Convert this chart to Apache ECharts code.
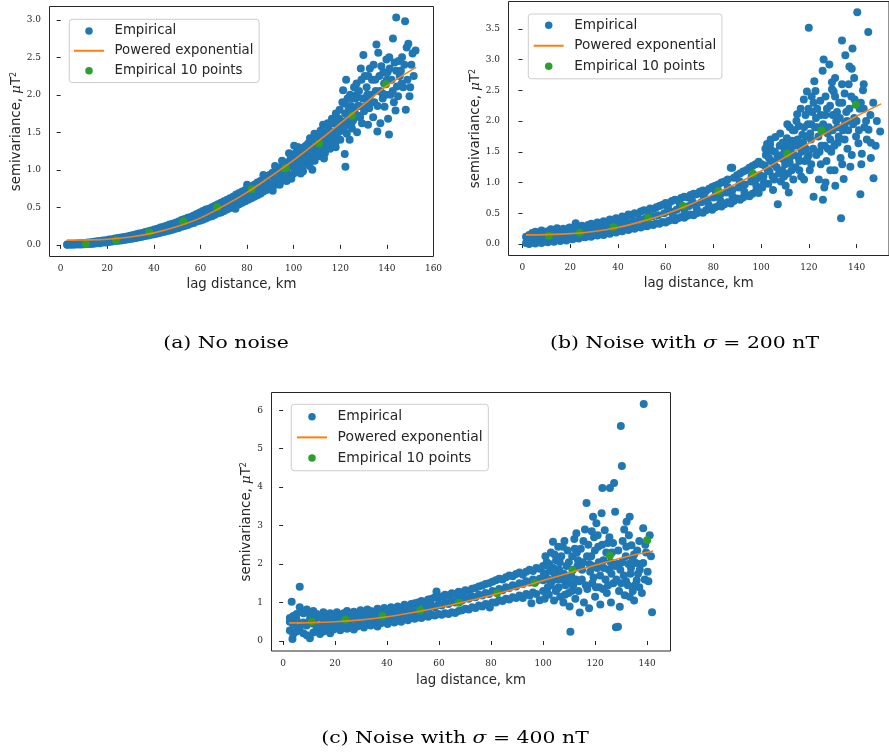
<!DOCTYPE html>
<html>
<head>
<meta charset="utf-8">
<script src="https://cdn.jsdelivr.net/npm/echarts@6/dist/echarts.min.js"></script>
<style>
html,body{margin:0;padding:0;background:#fff;}
#chart{width:889px;height:754px;}
</style>
</head>
<body>
<div id="chart"></div>
<script>
// ---------- panel (a): no noise ----------
const empiricalA = [
[2.8,0.0],[2.8,0.005],[4.0,0.002],[4.0,0.01],[5.3,0.0],[5.3,0.012],[6.5,0.004],[6.5,0.015],[7.8,0.006],[7.8,0.02],
[9.0,0.004],[9.0,0.022],[10.3,0.008],[10.3,0.025],[11.6,0.01],[11.6,0.03],[12.9,0.012],[12.9,0.035],[14.2,0.015],[14.2,0.04],
[15.5,0.02],[15.5,0.048],[16.8,0.022],[16.8,0.05],[18.1,0.03],[18.1,0.058],[19.4,0.032],[19.4,0.062],[20.7,0.038],[20.7,0.07],
[22.0,0.045],[22.0,0.075],[23.3,0.05],[23.3,0.085],[24.6,0.055],[24.6,0.09],[25.9,0.058],[25.9,0.098],[27.2,0.066],[27.2,0.105],
[28.5,0.07],[28.5,0.112],[29.8,0.078],[29.8,0.12],[31.1,0.085],[31.1,0.13],[32.4,0.092],[32.4,0.14],[33.7,0.1],[33.7,0.15],
[35.0,0.108],[35.0,0.158],[36.3,0.118],[36.3,0.17],[37.6,0.125],[37.6,0.182],[38.9,0.135],[38.9,0.19],[40.2,0.14],[40.2,0.205],
[41.5,0.152],[41.5,0.215],[42.8,0.16],[42.8,0.23],[44.1,0.17],[44.1,0.24],[45.4,0.18],[45.4,0.255],[46.7,0.19],[46.7,0.27],
[48.0,0.2],[48.0,0.28],[49.3,0.215],[49.3,0.295],[50.6,0.225],[50.6,0.31],[51.9,0.24],[51.9,0.33],[53.2,0.25],[53.2,0.345],
[54.5,0.265],[54.5,0.36],[55.8,0.28],[55.8,0.37],[57.1,0.29],[57.1,0.39],[58.4,0.31],[58.4,0.41],[59.7,0.32],[59.7,0.43],
[61.0,0.335],[61.0,0.45],[62.3,0.35],[62.3,0.47],[63.6,0.37],[63.6,0.48],[64.9,0.38],[64.9,0.5],[66.2,0.4],[66.2,0.52],
[67.5,0.42],[67.5,0.54],[68.8,0.43],[68.8,0.56],[70.1,0.45],[70.1,0.58],[71.4,0.47],[71.4,0.6],[72.7,0.49],[72.7,0.62],
[74.0,0.5],[74.0,0.64],[75.3,0.52],[75.3,0.67],[76.6,0.54],[76.6,0.69],[77.9,0.56],[77.9,0.71],[79.2,0.58],[79.2,0.73],
[80.5,0.6],[80.5,0.76],[81.8,0.62],[81.8,0.78],[83.1,0.64],[83.1,0.8],[84.4,0.66],[84.4,0.83],[85.7,0.68],[85.7,0.85],
[87.0,0.71],[87.0,0.88],[88.3,0.73],[88.3,0.9],[89.6,0.75],[89.6,0.93],[90.9,0.78],[90.9,0.96],[92.2,0.8],[92.2,0.99],
[93.5,0.82],[93.5,1.01],[94.8,0.85],[94.8,1.04],[96.1,0.87],[96.1,1.08],[97.4,0.9],[97.4,1.1],[98.7,0.92],[98.7,1.14],
[100.0,0.95],[100.0,1.17],
[60.4,0.39],[63,0.43],[65.6,0.46],[68.2,0.5],[70.8,0.53],[73.4,0.57],[76,0.61],[78.6,0.65],[81.2,0.69],[83.8,0.73],
[86.4,0.78],[89,0.82],[91.6,0.88],[94.2,0.93],[96.8,0.98],[99.4,1.04],
[92,1.05],[95,1.12],[98,1.22],[100.2,1.32],[101.5,1.3],[91,0.72],[94,0.8],[97,0.85],[99,0.88],[87,0.93],[80,0.8],[75,0.48],
[100.5,1.0],[101,1.12],[101.8,1.2],[102.5,1.05],[103,1.25],[103.5,1.15],[104,0.98],[104.5,1.3],[105,1.1],[105.6,1.22],
[106.2,1.35],[106.8,1.05],[107.3,1.18],[107.8,1.28],[108.4,1.4],[109,1.12],[109.5,1.25],[110,1.32],[110.6,1.45],[111.2,1.18],
[111.7,1.3],[112.3,1.38],[112.8,1.5],[113.4,1.22],[114,1.35],[114.5,1.44],[115,1.55],[115.6,1.28],[116.1,1.4],[116.7,1.5],
[117.2,1.62],[117.8,1.35],[118.3,1.46],[118.9,1.57],[119.4,1.68],[120,1.4],[120.5,1.52],[121,1.64],[121.2,2.06],[121.9,1.21],
[122.2,1.04],[122.5,2.2],[122.1,1.75],[122.8,1.48],[123.4,1.6],[123.9,1.7],[124.5,1.85],[125,1.55],[125.5,1.66],[126.1,1.78],
[126.6,1.95],[127.2,1.5],[127.7,1.72],[128.2,1.85],[128.8,2.35],[129.3,1.62],[129.9,2.53],[130.2,1.78],[130.8,1.95],[131.3,2.1],
[131.9,1.6],[132.4,1.82],[133,2.0],[133.6,2.2],[134.1,1.7],[134.6,1.9],[135.2,2.05],[135.5,2.67],[135.9,1.51],[136.3,2.56],
[136.8,2.25],[137.2,1.62],[137.6,2.38],[138.2,1.95],[138.8,2.15],[139,1.84],[139.8,2.47],[140.3,2.3],[140.5,1.68],[140.9,1.47],
[141.5,2.0],[142,2.2],[142.6,2.75],[143.3,2.43],[143.7,1.79],[144,2.32],[144,3.03],[144.3,2.11],[144.8,1.98],[145.5,2.25],
[146,2.32],[147,2.1],[147.8,2.98],[148.1,1.8],[148.5,2.63],[149.2,2.68],[149.7,1.98],[150.5,2.4],[151.5,2.25],[152.3,2.59],
[146.5,2.5],[141,2.5],[138,2.02],[132,2.25],[127,2.0],[124,1.4],[118,1.3],[113,1.15],[108,1.0],[103,0.95],
[100.8,1.22],[101.3,1.08],[102,1.3],[102.8,1.15],[103.6,1.05],[104.2,1.2],[105.2,1.32],[105.9,1.15],[106.5,1.25],[107,1.42],
[107.6,1.12],[108.1,1.3],[108.9,1.48],[109.7,1.2],[110.3,1.4],[110.9,1.25],[111.5,1.52],[112,1.3],[112.6,1.6],[113.2,1.42],
[113.8,1.28],[114.6,1.62],[115.3,1.45],[115.9,1.35],[116.4,1.68],[117,1.48],[117.5,1.4],[118.1,1.75],[118.6,1.6],[119.1,1.5],
[119.7,1.8],[120.3,1.65],[120.9,1.9],[121.5,1.55],[122,1.88],[122.6,1.65],[123.1,1.95],[123.6,1.8],[124.2,2.0],[124.8,1.62],
[125.3,1.95],[125.9,2.1],[126.3,1.7],[127,2.15],[127.5,1.85],[128,2.05],[128.5,1.7],[129.1,2.2],[129.6,1.95],[130.5,2.25],
[131,1.85],[131.6,2.0],[132.7,2.35],[133.3,1.9],[134.3,2.4],[135,2.2],[136,1.85],[137,2.05],[138.5,2.3],[139.5,2.0],
[140,2.2],[141.2,2.35],[142.5,2.05],[143,1.9],[145,2.45],[146.3,2.15],[147.5,2.4],[148.8,2.2],[150,2.1],[151,2.55]
];
const fitA = [[2.6,0.063],[10,0.065],[20,0.075],[30,0.105],[40,0.16],[50,0.245],[60,0.36],[70,0.52],[80,0.70],[90,0.91],
[100,1.13],[110,1.37],[120,1.62],[130,1.87],[140,2.12],[152.6,2.37]];
const binsA = [[10.9,0.013],[23.7,0.063],[38,0.165],[52.6,0.31],[67.2,0.50],[82,0.744],[96.5,1.02],[110.9,1.35],[125.1,1.72],[139.6,2.14]];
const xTicksA = [0,20,40,60,80,100,120,140,160];
const yTicksA = [0,0.5,1,1.5,2,2.5,3];

// ---------- panel (b): sigma = 200 nT ----------
const empiricalB = [
[1.5,0.02],[1.5,0.12],[2.8,0.0],[2.8,0.15],[4.1,0.03],[4.1,0.18],[5.4,0.01],[5.4,0.2],[6.7,0.04],[6.7,0.16],
[8.0,0.02],[8.0,0.22],[9.3,0.05],[9.3,0.19],[10.6,0.03],[10.6,0.21],[11.9,0.06],[11.9,0.24],[13.2,0.04],[13.2,0.2],
[14.5,0.07],[14.5,0.26],[15.8,0.05],[15.8,0.22],[17.1,0.08],[17.1,0.25],[18.4,0.06],[18.4,0.23],[19.7,0.09],[19.7,0.27],
[21.0,0.08],[21.0,0.26],[22.3,0.1],[22.3,0.34],[23.6,0.09],[23.6,0.28],[24.9,0.12],[24.9,0.3],[26.2,0.11],[26.2,0.27],
[27.5,0.13],[27.5,0.31],[28.8,0.12],[28.8,0.33],[30.1,0.15],[30.1,0.32],[31.4,0.14],[31.4,0.35],[32.7,0.16],[32.7,0.34],
[34.0,0.15],[34.0,0.37],[35.3,0.18],[35.3,0.36],[36.6,0.17],[36.6,0.4],[37.9,0.2],[37.9,0.38],[39.2,0.19],[39.2,0.42],
[40.5,0.22],[40.5,0.41],[41.8,0.21],[41.8,0.45],[43.1,0.24],[43.1,0.44],[44.4,0.23],[44.4,0.48],[45.7,0.26],[45.7,0.47],
[47.0,0.25],[47.0,0.5],[48.3,0.28],[48.3,0.49],[49.6,0.27],[49.6,0.53],[50.9,0.3],[50.9,0.55],[52.2,0.29],[52.2,0.54],
[53.5,0.32],[53.5,0.58],[54.8,0.31],[54.8,0.57],[56.1,0.34],[56.1,0.6],[57.4,0.33],[57.4,0.62],[58.7,0.36],[58.7,0.64],
[60.0,0.35],[60.0,0.67],[61.3,0.38],[61.3,0.66],[62.6,0.4],[62.6,0.7],[63.9,0.39],[63.9,0.72],[65.2,0.42],[65.2,0.71],
[66.5,0.44],[66.5,0.75],[67.8,0.43],[67.8,0.77],[69.1,0.46],[69.1,0.76],[70.4,0.48],[70.4,0.8],[71.7,0.47],[71.7,0.82],
[73.0,0.5],[73.0,0.81],[74.3,0.52],[74.3,0.85],[75.6,0.51],[75.6,0.87],[76.9,0.55],[76.9,0.86],[78.2,0.57],[78.2,0.9],
[79.5,0.56],[79.5,0.93],[80.8,0.6],[80.8,0.95],[82.1,0.62],[82.1,0.97],[83.4,0.61],[83.4,1.0],[84.7,0.65],[84.7,1.02],
[86.0,0.68],[86.0,1.05],[87.3,0.66],[87.3,1.24],[88.6,0.7],[88.6,1.08],[89.9,0.74],[89.9,1.12],[91.2,0.72],[91.2,1.15],
[92.5,0.76],[92.5,1.18],[93.8,0.8],[93.8,1.2],[95.1,0.78],[95.1,1.24],[96.4,0.82],[96.4,1.27],[97.7,0.85],[97.7,1.3],
[99.0,0.83],[99.0,1.34],
[2.2,0.07],[4.8,0.1],[7.4,0.09],[10,0.12],[12.6,0.13],[15.2,0.14],[17.8,0.16],[20.4,0.17],[23,0.19],[25.6,0.2],
[28.2,0.22],[30.8,0.24],[33.4,0.26],[36,0.28],[38.6,0.3],[41.2,0.33],[43.8,0.35],[46.4,0.37],[49,0.4],[51.6,0.42],
[54.2,0.45],[56.8,0.47],[59.4,0.5],[62,0.53],[64.6,0.56],[67.2,0.59],[69.8,0.62],[72.4,0.65],[75,0.68],[77.6,0.72],
[80.2,0.76],[82.8,0.8],[85.4,0.84],[88,0.88],[90.6,0.92],[93.2,0.97],[95.8,1.02],[98.4,1.07],[99.5,1.12],
[61,0.58],[66,0.65],[71,0.72],[76,0.78],[81,0.85],[86,0.93],[91,1.02],[96,1.1],
[63,0.48],[68,0.52],[73,0.58],[78,0.64],[83,0.7],[88,0.78],[93,0.85],[98,0.95],
[100.5,0.92],[101,1.1],[101.5,1.28],[102,1.45],[102.5,1.63],[103,0.98],[103.5,1.18],[104,1.35],[104.5,1.52],[105,0.88],
[105.5,1.05],[106,1.74],[106.5,1.25],[107,0.65],[107.3,1.42],[107.8,1.6],[108.3,1.02],[108.8,1.2],[109.3,1.38],[109.8,1.55],
[110.3,0.95],[110.8,1.72],[111.3,1.15],[111.6,0.84],[112,1.32],[112.5,1.5],[113,1.68],[113.5,1.05],[114,1.85],[114.5,1.25],
[115.1,2.11],[115.5,1.42],[115.8,1.92],[116.2,1.6],[116.8,1.1],[117.3,1.78],[117.9,2.35],[118.3,1.35],[118.8,1.55],[119.2,2.48],
[119.6,1.95],[120,3.52],[120.4,1.2],[120.9,1.7],[121.4,2.15],[122,0.77],[122.3,2.65],[122.8,2.49],[123.2,1.45],[123.7,1.9],
[124.2,1.05],[124.8,2.33],[125.3,1.6],[125.8,2.82],[125.9,0.72],[126.2,3.0],[126.5,0.92],[126.9,2.1],[127.4,1.35],[127.9,1.8],
[128.6,2.92],[128.9,2.25],[129.4,1.5],[129.7,2.63],[129.7,2.52],[130.4,2.48],[130.8,1.2],[131.1,0.95],[131.5,2.0],[132.1,1.65],
[132.7,2.3],[133.3,1.4],[133.5,0.42],[133.9,2.6],[133.9,3.31],[134.3,1.85],[134.6,1.06],[135.3,3.07],[135.7,2.15],[136.2,1.55],
[136.7,2.6],[137,2.89],[137.4,1.26],[138,2.85],[138.3,3.18],[138.6,1.95],[139.2,2.35],[139.8,1.75],[140.3,3.77],[140.8,1.64],
[141.3,2.2],[141.6,0.81],[142.2,1.47],[142.7,2.5],[143.3,1.9],[144.3,1.7],[144.9,3.45],[145,1.86],[145.8,2.1],[147.1,1.07],
[148,1.6],[149.9,1.83],[136,2.0],[131,2.4],[127,1.0],[121,1.3],[118,1.9],[112,1.9],[104,1.7],
[112,1.4],[114,1.6],[116,1.35],[117,1.5],[119,1.75],[121,1.95],[123,2.05],[124,1.75],[126,1.95],[128,1.55],
[130,1.85],[132,1.9],[135,1.7],[137,2.2],[139,2.05],[141,1.85],[143,2.2],[120,1.45],[125,1.3],[129,1.2],
[134,1.3],[138,1.45],[142,1.3],[146,1.4],[122,2.3],[127,2.4],[131,2.7],[135,2.45],[139,2.7],[143,2.6],[147,2.3],
[87.9,1.24],
[100.2,1.3],[101.2,1.0],[101.8,1.55],[102.8,1.2],[103.3,1.4],[103.8,1.62],[104.8,1.1],[105.3,1.3],[105.8,1.5],[106.8,1.4],
[107.5,1.15],[108,1.8],[108.6,1.45],[109,1.65],[109.6,1.1],[110.1,1.3],[110.6,1.5],[111,1.95],[111.9,1.62],[112.8,1.2],
[113.3,1.85],[113.8,1.45],[114.8,2.0],[115.3,1.7],[116,1.2],[116.6,2.2],[117.6,1.65],[118,1.05],[118.6,2.1],[119.4,1.4],
[119.9,2.2],[120.6,1.8],[121.2,2.4],[121.8,1.55],[122.6,1.9],[123.5,2.2],[124.5,1.5],[125,2.1],[125.6,1.85],[126.7,1.6],
[127.6,2.2],[128.3,1.9],[129,1.7],[130,2.1],[130.7,1.6],[131.8,2.15],[132.5,1.75],[133,2.05],[134,2.3],[135,1.95],
[136.5,1.85],[137.8,2.4],[140,2.0],[141.8,2.3],[144,2.0],[146,1.65],[148.5,2.0]
];
const fitB = [[1.4,0.151],[10,0.155],[20,0.17],[30,0.205],[40,0.27],[50,0.37],[60,0.49],[70,0.64],[80,0.81],[90,0.99],
[100,1.19],[110,1.41],[120,1.64],[130,1.87],[140,2.08],[150.3,2.28]];
const binsB = [[11.1,0.135],[23.9,0.184],[38.1,0.276],[52.7,0.428],[67.3,0.618],[82.1,0.862],[96.6,1.143],[110.9,1.468],[125.3,1.847],[139.7,2.265]];
const xTicksB = [0,20,40,60,80,100,120,140];
const yTicksB = [0,0.5,1,1.5,2,2.5,3,3.5];

// ---------- panel (c): sigma = 400 nT ----------
const empiricalC = [
[2.6,0.27],[2.6,0.5],[2.6,0.6],[3.3,1.02],[3.6,0.05],[3.9,0.18],[3.9,0.42],[3.9,0.65],[5.2,0.25],[5.2,0.55],[5.2,0.7],
[6.4,1.41],[6.4,0.875],[6.4,0.35],[7.8,0.2],[7.8,0.48],[7.8,0.72],[9.1,0.15],[9.1,0.4],[9.1,0.82],[10.3,0.07],[10.3,0.55],[10.3,0.68],
[11.6,0.22],[11.6,0.45],[11.6,0.78],[12.9,0.3],[12.9,0.6],[12.9,0.7],[14.2,0.18],[14.2,0.38],[14.2,0.65],[15.5,0.25],[15.5,0.52],[15.5,0.75],
[16.8,0.32],[16.8,0.45],[16.8,0.62],[18.1,0.2],[18.1,0.58],[18.1,0.72],[19.4,0.3],[19.4,0.42],[19.4,0.68],[20.7,0.35],[20.7,0.55],[20.7,0.75],
[22.0,0.28],[22.0,0.48],[22.0,0.65],[23.3,0.38],[23.3,0.6],[23.3,0.72],[24.6,0.32],[24.6,0.5],[24.6,0.78],[25.9,0.4],[25.9,0.56],[25.9,0.7],
[27.2,0.3],[27.2,0.62],[27.2,0.76],[28.5,0.38],[28.5,0.5],[28.5,0.72],[29.8,0.42],[29.8,0.58],[29.8,0.8],[31.1,0.35],[31.1,0.62],[31.1,0.74],
[32.4,0.45],[32.4,0.55],[32.4,0.82],[33.7,0.4],[33.7,0.65],[33.7,0.78],[35.0,0.48],[35.0,0.58],[35.0,0.76],[36.3,0.38],[36.3,0.66],[36.3,0.84],
[37.6,0.46],[37.6,0.6],[37.6,0.8],[38.9,0.5],[38.9,0.7],[38.9,0.86],[40.2,0.44],[40.2,0.62],[40.2,0.8],[41.5,0.52],[41.5,0.72],[41.5,0.88],
[42.8,0.48],[42.8,0.66],[42.8,0.82],[44.1,0.55],[44.1,0.74],[44.1,0.9],[45.4,0.5],[45.4,0.7],[45.4,0.86],[46.7,0.58],[46.7,0.78],[46.7,0.94],
[48.0,0.54],[48.0,0.72],[48.0,0.9],[49.3,0.6],[49.3,0.8],[49.3,0.96],[50.6,0.58],[50.6,0.76],[50.6,0.98],[51.9,0.62],[51.9,0.84],[51.9,1.0],
[53.2,0.6],[53.2,0.8],[53.2,1.04],[54.5,0.66],[54.5,0.88],[54.5,1.02],[55.8,0.63],[55.8,0.84],[55.8,1.08],[57.1,0.68],[57.1,0.92],[57.1,1.1],
[58.4,0.66],[58.4,0.88],[58.4,1.14],[59.0,1.29],[59.7,0.7],[59.7,0.95],[59.7,1.12],[61.0,0.68],[61.0,0.92],[61.0,1.16],
[62.3,0.72],[62.3,1.0],[62.3,1.2],[63.6,0.7],[63.6,0.96],[63.6,1.18],[64.9,0.75],[64.9,1.04],[64.9,1.24],[66.2,0.73],[66.2,1.0],[66.2,1.22],
[67.5,0.78],[67.5,1.08],[67.5,1.28],[68.8,0.8],[68.8,1.05],[68.8,1.26],[70.1,0.84],[70.1,1.12],[70.1,1.32],[71.4,0.82],[71.4,1.1],[71.4,1.3],
[72.7,0.88],[72.7,1.16],[72.7,1.36],[74.0,0.86],[74.0,1.14],[74.0,1.38],[75.3,0.92],[75.3,1.2],[75.3,1.42],[76.6,0.9],[76.6,1.18],[76.6,1.44],
[77.9,0.96],[77.9,1.25],[77.9,1.48],[79.2,0.95],[79.2,1.22],[79.2,1.5],[79.5,0.87],[80.5,1.0],[80.5,1.3],[80.5,1.54],
[81.8,1.0],[81.8,1.28],[81.8,1.58],[83.1,1.06],[83.1,1.35],[83.1,1.62],[84.4,1.04],[84.4,1.32],[84.4,1.6],[85.7,1.1],[85.7,1.4],[85.7,1.66],
[87.0,1.08],[87.0,1.38],[87.0,1.7],[88.3,1.14],[88.3,1.45],[88.3,1.68],[89.6,1.12],[89.6,1.42],[89.6,1.74],[90.9,1.18],[90.9,1.5],[90.9,1.78],
[92.2,1.12],[92.2,1.48],[92.2,1.72],[93.5,1.22],[93.5,1.55],[93.5,1.8],[94.8,1.18],[94.8,1.52],[94.8,1.85],[95.5,0.98],
[96.1,1.26],[96.1,1.6],[96.1,1.82],[97.4,1.22],[97.4,1.56],[97.4,1.9],[98.7,1.06],[98.7,1.62],[98.7,1.88],[100.0,1.3],[100.0,1.58],[100.0,1.95],
[100.6,1.1],[101,1.75],[101.4,2.05],[101.8,1.4],[102.2,1.2],[102.6,1.9],[103,2.3],[103.4,1.55],[103.8,2.58],[104.2,1.05],
[104.6,1.7],[105,2.1],[105.4,1.35],[105.8,2.45],[106.2,1.85],[106.6,1.15],[107,2.2],[107.4,1.6],[107.8,1.0],[108.2,2.6],
[108.6,1.45],[109,1.95],[109.4,2.35],[109.8,1.25],[110.2,0.9],[110.5,0.24],[110.8,1.7],[111.2,2.2],[111.6,1.45],[112,2.65],
[112.4,1.1],[112.8,2.8],[113.2,1.95],[113.6,1.3],[114.1,0.74],[114.5,2.4],[114.9,1.6],[115.3,2.05],[115.7,1.0],[116.1,2.9],
[116.7,3.59],[117,1.35],[117.4,2.5],[117.7,0.85],[118.1,1.8],[118.5,2.2],[118.9,1.5],[119.2,3.23],[119.6,2.7],[120,1.15],
[120.5,3.06],[120.8,1.9],[121.2,2.45],[121.6,1.4],[122,0.95],[122.5,3.32],[122.8,3.98],[123.2,2.1],[123.7,2.88],[124,1.6],
[124.5,1.25],[124.9,2.55],[125.3,1.85],[125.7,3.98],[126.1,1.0],[126.5,2.3],[127,1.5],[127.3,4.11],[127.7,3.36],[128,0.36],
[128.4,2.0],[128.8,0.37],[129.2,1.3],[129.5,0.89],[129.9,5.59],[130.3,4.55],[130.6,2.6],[131,1.7],[131.4,1.19],[131.8,2.2],
[132.1,3.1],[132.6,1.45],[133,2.75],[133.3,3.23],[133.3,1.15],[133.8,1.9],[134,2.49],[134.5,1.3],[135,2.25],[135.7,2.03],
[136,1.58],[136.5,1.75],[137,1.4],[137.6,2.0],[138.5,2.93],[138.5,2.03],[138.7,6.16],[139.1,1.6],[139.6,2.3],[140.2,1.8],
[141,2.75],[141.9,0.745],[108,1.75],[111,1.3],[113,2.3],[115,1.85],[119,1.95],[121,2.75],[123,1.35],[126,2.05],
[130,1.5],[132,2.45],[135,1.05],[137,2.6],[106,1.4],[104,1.9],[102,1.6],
[100.3,1.75],[100.9,2.2],[101.6,1.25],[102.4,2.0],[102.9,1.45],[103.6,1.8],[104.4,2.25],[104.9,1.3],[105.6,1.6],[106.4,2.05],
[106.9,1.75],[107.6,2.45],[108.4,1.2],[109.2,1.6],[109.9,2.05],[110.6,1.5],[111.4,1.85],[112.2,2.4],[112.6,1.6],[113.4,2.1],
[113.9,1.55],[114.7,1.9],[115.5,2.6],[116.4,1.45],[116.9,2.2],[117.8,2.0],[118.7,2.85],[119.4,1.65],[119.9,2.35],[120.3,1.4],
[121.4,2.05],[121.9,1.7],[122.7,2.5],[123.4,1.9],[124.3,2.3],[125,1.45],[125.5,2.7],[126.3,1.75],[126.9,2.55],[127.6,1.95],
[128.2,1.6],[128.9,2.35],[129.7,1.85],[130.4,2.05],[131.2,2.9],[131.9,1.55],[132.8,2.0],[133.6,1.75],[134.4,2.15],[135.3,1.45],
[136.2,2.35],[137.2,1.85],[138,1.25],[139.3,2.5],[140.5,1.55],[141.5,2.2]
];
const fitC = [[2.3,0.47],[10,0.475],[20,0.5],[30,0.55],[40,0.63],[50,0.74],[60,0.87],[70,1.02],[80,1.19],[90,1.37],
[100,1.57],[110,1.77],[120,1.97],[130,2.16],[142.3,2.34]];
const binsC = [[11.0,0.50],[24.0,0.55],[38.2,0.65],[52.8,0.80],[67.6,0.995],[82.3,1.24],[96.8,1.51],[111.3,1.84],[125.7,2.22],[140,2.62]];
const xTicksC = [0,20,40,60,80,100,120,140];
const yTicksC = [0,1,2,3,4,5,6];

const legendNames = ['Empirical', 'Powered exponential', 'Empirical 10 points'];
const captions = ['(a) No noise', '(b) Noise with {i|σ} = 200 nT', '(c) Noise with {i|σ} = 400 nT'];

// ---------- styling ----------
const INK = '#262626';
const BLUE = '#1f77b4', ORANGE = '#ff7f0e', GREEN = '#2ca02c';
const SANS = '"DejaVu Sans", sans-serif';
const SERIF = '"DejaVu Serif", serif';
const DOT = 8;

const panels = [
  { box: { left: 49.5, top: 6.5, width: 384, height: 250 }, x: [-4.8, 160], y: [-0.155, 3.178],
    xt: xTicksA, yt: yTicksA, fmt: v => v.toFixed(1), xGap: 21.4, yGap: 25.5,
    emp: empiricalA, fit: fitA, bins: binsA,
    legend: { left: 69.3, top: 19.3, lh: 19.85, pad: [1.7, 5.7, 2, 3.7], fs: 13.3 } },
  { box: { left: 508.5, top: 1.5, width: 382, height: 254 }, x: [-5.85, 153.6], y: [-0.185, 3.945],
    xt: xTicksB, yt: yTicksB, fmt: v => v.toFixed(1), xGap: 22, yGap: 26.7,
    emp: empiricalB, fit: fitB, bins: binsB,
    legend: { left: 528.3, top: 14, lh: 20.5, pad: [1, 5.7, 2.3, 4.4], fs: 13.6 } },
  { box: { left: 271.5, top: 392.5, width: 399, height: 258.5 }, x: [-4.46, 149.0], y: [-0.26, 6.46],
    xt: xTicksC, yt: yTicksC, fmt: v => String(v), xGap: 22.7, yGap: 18.7,
    emp: empiricalC, fit: fitC, bins: binsC,
    legend: { left: 291.3, top: 404.3, lh: 20.65, pad: [2.1, 5.7, 2.4, 4.7], fs: 13.9 } }
];

const option = {
  animation: false,
  backgroundColor: '#ffffff',
  grid: [], xAxis: [], yAxis: [], series: [], legend: [], graphic: []
};

// the fitted-curve legend entry shows a bare line, no marker
const legendData = [
  legendNames[0],
  { name: legendNames[1], itemStyle: { opacity: 0, color: 'rgba(0,0,0,0)', borderWidth: 0 } },
  legendNames[2]
];

panels.forEach((p, i) => {
  option.grid.push(Object.assign({ show: true, borderColor: INK, borderWidth: 1, backgroundColor: 'transparent', containLabel: false }, p.box));
  option.xAxis.push({
    gridIndex: i, type: 'value', min: p.x[0], max: p.x[1],
    axisLine: { show: false }, splitLine: { show: false },
    axisTick: { show: true, customValues: p.xt, length: 4, lineStyle: { color: INK, width: 1 } },
    axisLabel: { customValues: p.xt, margin: 8, fontFamily: SERIF, fontSize: 9, color: INK },
    name: 'lag distance, km', nameLocation: 'middle', nameGap: p.xGap,
    nameTextStyle: { fontFamily: SANS, fontSize: 13.3, color: INK }
  });
  option.yAxis.push({
    gridIndex: i, type: 'value', min: p.y[0], max: p.y[1],
    axisLine: { show: false }, splitLine: { show: false },
    axisTick: { show: true, customValues: p.yt, length: 4, lineStyle: { color: INK, width: 1 } },
    axisLabel: { customValues: p.yt, formatter: p.fmt, margin: 8.5, fontFamily: SERIF, fontSize: 9, color: INK },
    name: 'semivariance, {mu|μ}T{sup|2}', nameLocation: 'middle', nameGap: p.yGap,
    nameTextStyle: {
      fontFamily: SANS, fontSize: 13.3, color: INK,
      rich: {
        mu: { fontFamily: SERIF, fontStyle: 'italic', fontSize: 13.3, color: INK },
        sup: { fontFamily: SANS, fontSize: 8, color: INK, verticalAlign: 'top' }
      }
    }
  });
  option.series.push(
    { type: 'scatter', name: legendNames[0], xAxisIndex: i, yAxisIndex: i, data: p.emp,
      symbol: 'circle', symbolSize: DOT, itemStyle: { color: BLUE, opacity: 1 }, silent: true },
    { type: 'line', name: legendNames[1], xAxisIndex: i, yAxisIndex: i, data: p.fit,
      symbol: 'none', showSymbol: false, smooth: 0.35, lineStyle: { color: ORANGE, width: 1.6 },
      itemStyle: { color: ORANGE }, silent: true },
    { type: 'scatter', name: legendNames[2], xAxisIndex: i, yAxisIndex: i, data: p.bins,
      symbol: 'circle', symbolSize: DOT, itemStyle: { color: GREEN, opacity: 1 }, silent: true }
  );
  option.legend.push({
    left: p.legend.left, top: p.legend.top, orient: 'vertical', data: legendData,
    itemWidth: 30, itemHeight: 7.5, itemGap: 0, padding: p.legend.pad,
    borderColor: '#cccccc', borderWidth: 1, borderRadius: 3, backgroundColor: 'rgba(255,255,255,0.8)',
    selectedMode: false,
    textStyle: { fontFamily: SANS, fontSize: p.legend.fs, color: INK, lineHeight: p.legend.lh, padding: [0, 0, 0, 5.5] }
  });
});

// sub-figure captions
const capPos = [[226, 344], [684.5, 344], [455, 739]];
captions.forEach((t, i) => {
  option.graphic.push({
    type: 'text', x: capPos[i][0], y: capPos[i][1], scaleX: 1.2, silent: true,
    style: {
      text: t, x: 0, y: 0, fill: '#000', font: '17px "DejaVu Serif"',
      fontFamily: '"DejaVu Serif"', fontSize: 17,
      align: 'center', verticalAlign: 'middle', textAlign: 'center', textVerticalAlign: 'middle',
      rich: { i: { fontFamily: '"DejaVu Serif"', fontStyle: 'italic', fontSize: 17, fill: '#000' } }
    }
  });
});

const chart = echarts.init(document.getElementById('chart'), null, { renderer: 'canvas' });
chart.setOption(option);
</script>
</body>
</html>
